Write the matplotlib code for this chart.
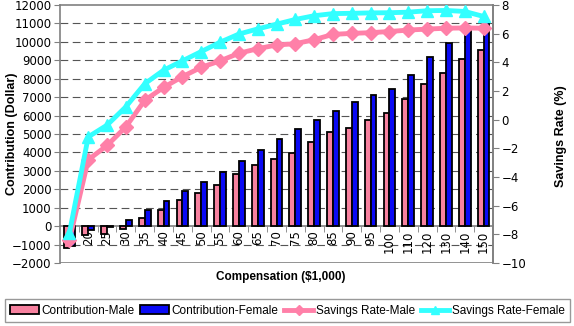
import numpy as np
import matplotlib
matplotlib.use("Agg")
import matplotlib.pyplot as plt
from matplotlib.ticker import FixedLocator

# ── data ──────────────────────────────────────────────────────────────────────
comp = ["15", "20", "25", "30", "35", "40", "45", "50", "55", "60", "65", "70",
        "75", "80", "85", "90", "95", "100", "110", "120", "130", "140", "150"]

contrib_male = [-1200, -480, -430, -160, 420, 870, 1400, 1820, 2240, 2810, 3300, 3660,
                3990, 4560, 5100, 5330, 5740, 6160, 6920, 7700, 8300, 9050, 9550]
contrib_female = [-1100, -210, -60, 360, 870, 1360, 1880, 2420, 2920, 3520, 4120, 4730,
                  5280, 5770, 6270, 6720, 7140, 7460, 8220, 9170, 9960, 10570, 11150]

rate_male = [-8.4, -2.8, -1.8, -0.5, 1.35, 2.25, 3.0, 3.65, 4.1, 4.63, 4.95, 5.21,
             5.3, 5.58, 5.95, 6.02, 6.07, 6.15, 6.25, 6.32, 6.38, 6.4, 6.38]
rate_female = [-7.9, -1.2, -0.38, 0.9, 2.5, 3.45, 4.1, 4.75, 5.4, 5.97, 6.33, 6.66,
               6.99, 7.25, 7.4, 7.42, 7.45, 7.46, 7.5, 7.6, 7.62, 7.55, 7.2]

PINK_BAR = "#F7819F"
BLUE_BAR = "#0A0AF5"
PINK_LINE = "#FF80A8"
CYAN_LINE = "#33FFFF"
FRAME = "#808080"
LABEL_FONT = "Liberation Sans"

plt.rcParams["font.family"] = ["DejaVu Sans"]

fig = plt.figure(figsize=(5.74, 3.26), dpi=100)
ax = fig.add_axes([60 / 574, 63 / 326, 433 / 574, 258 / 326])
ax2 = ax.twinx()

x = np.arange(len(comp))
w = 0.31

# ── bars on the left axis ─────────────────────────────────────────────────────
ax.bar(x - w / 2, contrib_male, w, color=PINK_BAR, edgecolor="black", linewidth=1.3,
       label="Contribution-Male", zorder=3)
ax.bar(x + w / 2, contrib_female, w, color=BLUE_BAR, edgecolor="black", linewidth=1.3,
       label="Contribution-Female", zorder=3)

ax.set_xlim(-0.5, len(comp) - 0.5)
ax.set_ylim(-2000, 12000)
ax.set_yticks(np.arange(-2000, 12001, 1000))
ax.tick_params(axis="y", labelsize=8.5, length=4, color=FRAME, pad=2)

for y in range(-1000, 12000, 1000):
    if y != 0:
        ax.axhline(y, color="#555555", linewidth=0.8, linestyle=(0, (7, 4)), zorder=1)

# x axis sits on zero, labels rotated below it
ax.spines["bottom"].set_position(("data", 0))
ax.axhline(-2000, color=FRAME, linewidth=1.2, zorder=2)
ax.set_xticks(x)
ax.set_xticklabels(comp, rotation=90, fontsize=8.5)
ax.tick_params(axis="x", which="major", length=0, pad=3)
ax.xaxis.set_minor_locator(FixedLocator(x[:-1] + 0.5))
ax.tick_params(axis="x", which="minor", length=4, color=FRAME, direction="out")

for s in ["left", "right", "top", "bottom"]:
    ax.spines[s].set_color(FRAME)
    ax.spines[s].set_linewidth(1.2)
    ax2.spines[s].set_visible(False)
ax2.spines["right"].set_visible(True)
ax2.spines["right"].set_color(FRAME)
ax2.spines["right"].set_linewidth(1.2)

# ── savings rate lines on the right axis ──────────────────────────────────────
ax2.plot(x, rate_male, color=PINK_LINE, linewidth=3.5, marker="D", markersize=7,
         label="Savings Rate-Male", zorder=4)
ax2.plot(x, rate_female, color=CYAN_LINE, linewidth=3.5, marker="^", markersize=9,
         label="Savings Rate-Female", zorder=5)
ax2.set_ylim(-10, 8)
ax2.set_yticks(np.arange(-10, 9, 2))
ax2.tick_params(axis="y", labelsize=8.5, length=4, color=FRAME, pad=2)

# ── labels ────────────────────────────────────────────────────────────────────
fig.text(12 / 574, 1 - 134 / 326, "Contribution (Dollar)", rotation=90, ha="center",
         va="center", fontsize=9, fontweight="bold", family=LABEL_FONT)
fig.text(561 / 574, 1 - 136 / 326, "Savings Rate (%)", rotation=90, ha="center",
         va="center", fontsize=9, fontweight="bold", family=LABEL_FONT)
fig.text(281 / 574, 1 - 277 / 326, "Compensation ($1,000)", ha="center", va="center",
         fontsize=8.5, fontweight="bold", family=LABEL_FONT)

h1, l1 = ax.get_legend_handles_labels()
h2, l2 = ax2.get_legend_handles_labels()
leg = fig.legend(h1 + h2, l1 + l2, loc="lower left", ncol=4, mode="expand",
                 bbox_to_anchor=(5 / 574, 4 / 326, 565 / 574, 26 / 326),
                 prop={"family": LABEL_FONT, "size": 8.5}, frameon=True,
                 fancybox=False, borderpad=0.45, handlelength=2.4,
                 handletextpad=0.25, columnspacing=0.5, borderaxespad=0,
                 markerscale=0.7)
leg.get_frame().set_edgecolor(FRAME)
leg.get_frame().set_linewidth(1.0)

plt.savefig("out.png", dpi=100)
